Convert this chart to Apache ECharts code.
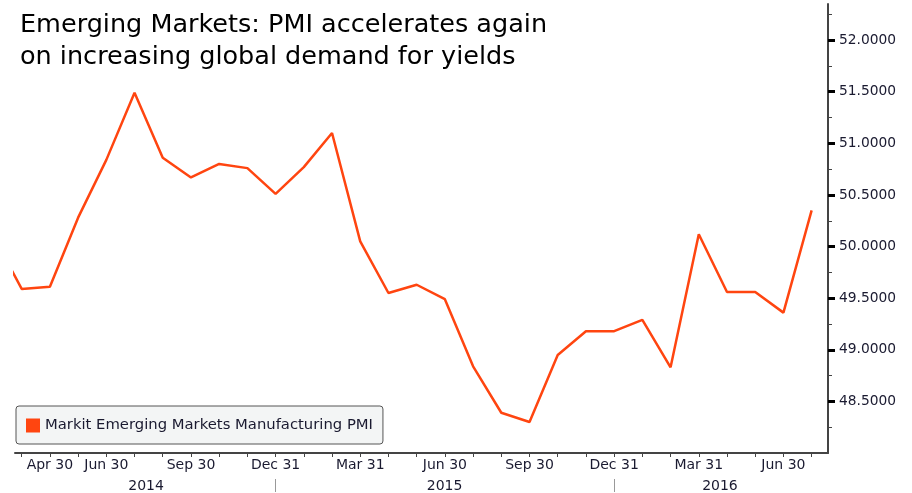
<!DOCTYPE html>
<html>
<head>
<meta charset="utf-8">
<script src="https://cdn.jsdelivr.net/npm/echarts@6/dist/echarts.min.js"></script>
<style>
	html, body { margin: 0; padding: 0; background: #fff; }
	#chartDom { width: 912px; height: 493px; }
</style>
</head>
<body>
<div id="chartDom"></div>
<script>
// month-end dates, one per observation (Feb 2014 sits just off the left edge)
var dates = [
	'2014-02-28', '2014-03-31', '2014-04-30', '2014-05-31', '2014-06-30', '2014-07-31',
	'2014-08-31', '2014-09-30', '2014-10-31', '2014-11-30', '2014-12-31',
	'2015-01-31', '2015-02-28', '2015-03-31', '2015-04-30', '2015-05-31', '2015-06-30',
	'2015-07-31', '2015-08-31', '2015-09-30', '2015-10-31', '2015-11-30', '2015-12-31',
	'2016-01-31', '2016-02-29', '2016-03-31', '2016-04-30', '2016-05-31', '2016-06-30',
	'2016-07-31'
];
var pmi = [
	50.10, 49.59, 49.61, 50.28, 50.84, 51.49,
	50.86, 50.67, 50.80, 50.76, 50.51,
	50.77, 51.10, 50.05, 49.55, 49.63, 49.49,
	48.84, 48.39, 48.30, 48.95, 49.18, 49.18,
	49.29, 48.83, 50.12, 49.56, 49.56, 49.36,
	50.35
];
var labelledDates = ['2014-04-30', '2014-06-30', '2014-09-30', '2014-12-31', '2015-03-31',
	'2015-06-30', '2015-09-30', '2015-12-31', '2016-03-31', '2016-06-30'];
var yearLabels = ['2014', '2015', '2016'];
var yTickLabels = [48.5, 49.0, 49.5, 50.0, 50.5, 51.0, 51.5, 52.0];
var seriesName = 'Markit Emerging Markets Manufacturing PMI';

var monthNames = ['Jan', 'Feb', 'Mar', 'Apr', 'May', 'Jun', 'Jul', 'Aug', 'Sep', 'Oct', 'Nov', 'Dec'];
var font = 'DejaVu Sans';
var lineColor = '#ff4510';

chart();

function chart() {
	var dom = document.getElementById('chartDom');
	var myChart = echarts.init(dom);

	var data = pmi.map(function(v, i) {
		return [i, v];
	});
	var monthTicks = [];
	for (var i = 1; i < dates.length; i++) monthTicks.push(i);
	var labelIdx = labelledDates.map(function(d) {
		return dates.indexOf(d);
	});
	// year boundaries: last December of each year shown
	var yearEnds = dates.map(function(d, i) { return i; }).filter(function(i) {
		return dates[i].slice(5, 7) === '12';
	});
	var yearPos = [5.41, 15.99, 25.75];
	var minorTicks = [];
	for (var v = 48.25; v < 52.35; v += 0.5) minorTicks.push(+v.toFixed(2));

	option = {
		animation: false,
		title: {
			text: 'Emerging Markets: PMI accelerates again\non increasing global demand for yields',
			left: 15,
			top: 4,
			textStyle: {
				fontFamily: font,
				fontWeight: 'normal',
				fontSize: 25.5,
				lineHeight: 32,
				color: '#000'
			}
		},
		legend: {
			left: 16,
			top: 406,
			data: [seriesName],
			icon: 'rect',
			itemWidth: 14,
			itemHeight: 14,
			itemGap: 5,
			padding: [12, 10, 11, 10],
			backgroundColor: '#f3f5f5',
			borderColor: '#555',
			borderWidth: 1,
			borderRadius: 3,
			textStyle: {
				fontFamily: font,
				fontSize: 14.8,
				color: '#1a1a30',
				padding: [0, 0, 0, 0]
			}
		},
		grid: {
			left: 15,
			right: 84,
			top: 4,
			bottom: 38
		},
		xAxis: [{
			type: 'value',
			min: 0.763,
			max: 29.58,
			splitLine: { show: false },
			axisLine: {
				onZero: false,
				lineStyle: { color: '#444', width: 2 }
			},
			axisTick: {
				customValues: monthTicks,
				length: 4,
				lineStyle: { color: '#444', width: 1 }
			},
			axisLabel: {
				customValues: labelIdx,
				margin: 5,
				fontFamily: font,
				fontSize: 14,
				color: '#1a1a30',
				formatter: function(val) {
					var d = dates[Math.round(val)];
					return monthNames[+d.slice(5, 7) - 1] + ' ' + d.slice(8, 10);
				}
			}
		}, {
			type: 'value',
			position: 'bottom',
			offset: 26,
			min: 0.763,
			max: 29.58,
			splitLine: { show: false },
			axisLine: { show: false },
			axisTick: {
				customValues: yearEnds,
				length: 13,
				lineStyle: { color: '#999', width: 1 }
			},
			axisLabel: {
				customValues: yearPos,
				margin: 0,
				fontFamily: font,
				fontSize: 14,
				color: '#1a1a30',
				formatter: function(val) {
					return yearLabels[yearPos.indexOf(val)];
				}
			}
		}],
		yAxis: [{
			type: 'value',
			position: 'right',
			min: 48,
			max: 52.35,
			splitLine: { show: false },
			axisLine: {
				show: true,
				lineStyle: { color: '#444', width: 2 }
			},
			axisTick: {
				customValues: yTickLabels,
				length: 7,
				lineStyle: { color: '#000', width: 3 }
			},
			axisLabel: {
				customValues: yTickLabels,
				margin: 11,
				fontFamily: font,
				fontSize: 13.8,
				color: '#1a1a30',
				formatter: function(val) {
					return val.toFixed(4);
				}
			}
		}, {
			type: 'value',
			position: 'right',
			min: 48,
			max: 52.35,
			splitLine: { show: false },
			axisLine: { show: false },
			axisTick: {
				customValues: minorTicks,
				length: 4,
				lineStyle: { color: '#444', width: 1 }
			},
			axisLabel: { show: false }
		}],
		series: [{
			name: seriesName,
			type: 'line',
			data: data,
			showSymbol: false,
			clip: true,
			itemStyle: { color: lineColor },
			lineStyle: { color: lineColor, width: 2.5 }
		}]
	};
	myChart.setOption(option, true);
}
</script>
</body>
</html>
